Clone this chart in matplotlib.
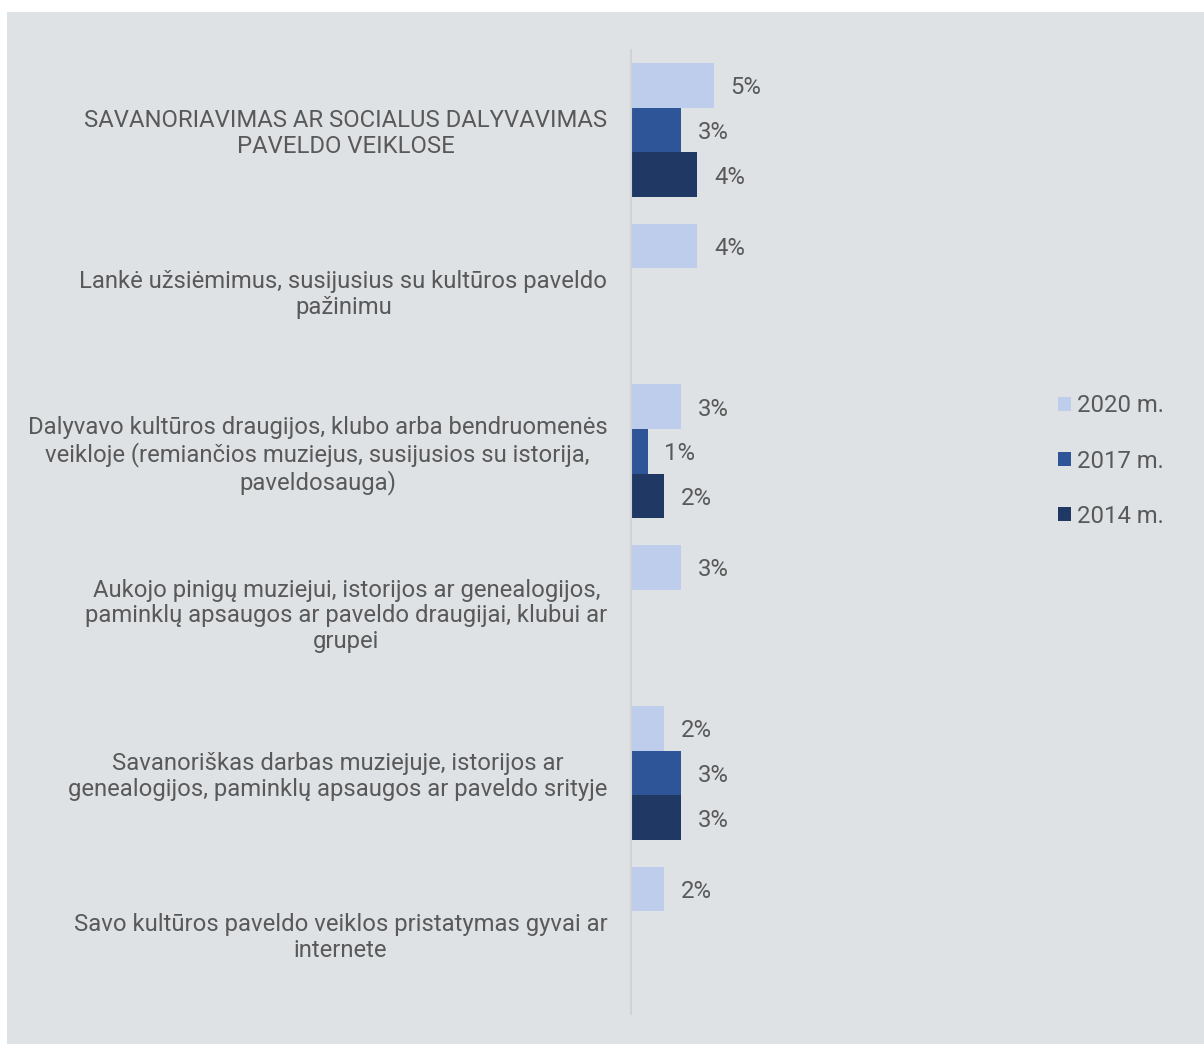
import numpy as np
import matplotlib
matplotlib.use("Agg")
import matplotlib.pyplot as plt
from matplotlib.patches import Rectangle, Patch

plt.rcParams['font.family'] = ['Roboto', 'DejaVu Sans']

categories = [
    "SAVANORIAVIMAS AR SOCIALUS DALYVAVIMAS\nPAVELDO VEIKLOSE",
    "Lankė užsiėmimus, susijusius su kultūros paveldo\npažinimu",
    "Dalyvavo kultūros draugijos, klubo arba bendruomenės\nveikloje (remiančios muziejus, susijusios su istorija,\npaveldosauga)",
    "Aukojo pinigų muziejui, istorijos ar genealogijos,\npaminklų apsaugos ar paveldo draugijai, klubui ar\ngrupei",
    "Savanoriškas darbas muziejuje, istorijos ar\ngenealogijos, paminklų apsaugos ar paveldo srityje",
    "Savo kultūros paveldo veiklos pristatymas gyvai ar\ninternete",
]
series_names = ["2020 m.", "2017 m.", "2014 m."]
v2020 = [5, 4, 3, 3, 2, 2]
v2017 = [3, None, 1, None, 3, None]
v2014 = [4, None, 2, None, 3, None]
series_values = [v2020, v2017, v2014]
colors = ["#bdcdeb", "#2e5597", "#1f3864"]

W, H = 1204, 1044
fig = plt.figure(figsize=(W / 100, H / 100), dpi=100, facecolor="white")
bg = "#dfe2e5"
fig.patches.append(Rectangle((7 / W, 0), 1 - 7 / W, 1 - 12 / H, transform=fig.transFigure,
                             facecolor=bg, edgecolor="none", zorder=-10))

ax_left = 631 / W
ax_top = 1 - 49.5 / H
ax_bottom = 1 - 1014 / H
x_max = (1040 - 631) / 16.6
ax = fig.add_axes([ax_left, ax_bottom, (1040 - 631) / W, ax_top - ax_bottom])
ax.set_facecolor("none")

n = len(categories)
y = np.arange(n)
h = 0.2778
offsets = [-h, 0, h]
txt_color = "#595959"
fs = 17.2

for vals, off, col, name in zip(series_values, offsets, colors, series_names):
    idx = [i for i, v in enumerate(vals) if v is not None]
    ws = [vals[i] for i in idx]
    bars = ax.barh(y[idx] + off, ws, height=h, color=col, label=name)
    anns = ax.bar_label(bars, labels=[f"{v}%" for v in ws], padding=12, fontsize=fs, color=txt_color)
    for a in anns:
        a.set_va("center_baseline")

ax.set_xlim(0, x_max)
ax.set_ylim(n - 0.5, -0.5)
ax.set_yticks(y)
ax.set_yticklabels(categories, fontsize=fs, color=txt_color, multialignment="center",
                   linespacing=1.15)
ax.tick_params(axis="y", length=0, pad=17)
ax.set_xticks([])
for s in ["top", "right", "bottom"]:
    ax.spines[s].set_visible(False)
ax.spines["left"].set_color("#d0d2d4")
ax.spines["left"].set_linewidth(1.5)

handles = [Patch(facecolor=c, edgecolor="none") for c in colors]
fig.legend(handles, series_names, loc="center left", bbox_to_anchor=(1036 / W, 1 - 461 / H),
           frameon=False, fontsize=fs, labelcolor=txt_color, handlelength=0.55, handleheight=0.55,
           handletextpad=0.25, labelspacing=1.35)

fig.savefig("out.png", dpi=100, facecolor="white")
